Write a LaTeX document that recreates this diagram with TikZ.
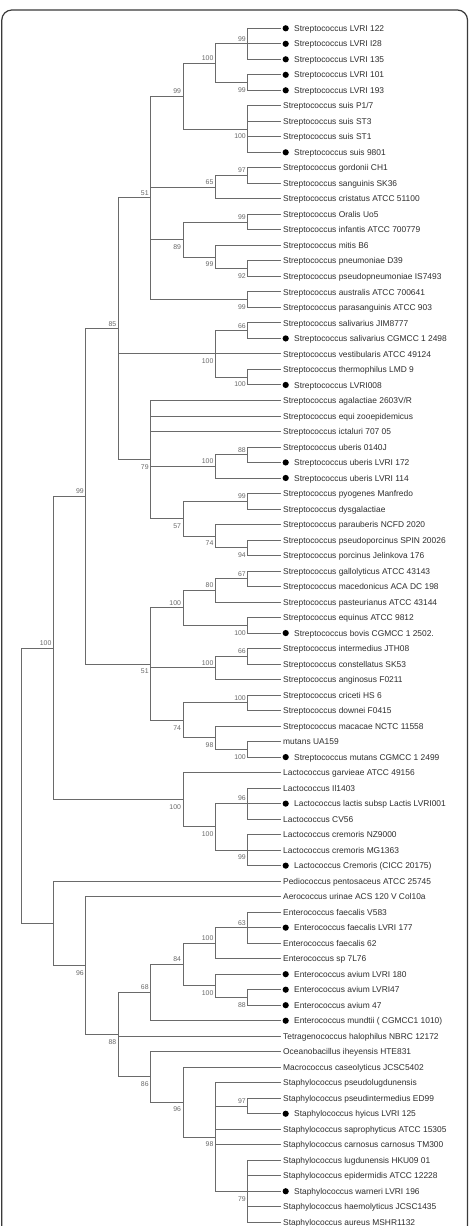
\documentclass[tikz,border=0pt]{standalone}
\usepackage{fontspec}
\setmainfont{Liberation Sans}
\usetikzlibrary{calc}
\definecolor{treeline}{HTML}{6A6A6A}
\definecolor{boottext}{HTML}{6A6A6A}
\definecolor{leafink}{HTML}{2E2E2E}
\definecolor{frameink}{HTML}{3A3A3A}

% column positions of the internal nodes
\newcommand\colx[1]{\coordinate (c#1) at ({21+32.4*#1},0);}
% a leaf: tip coordinate, optional dot, label
\newcommand\leaf[3]{%
  \coordinate (t#1) at (280.2,{28.3+(#1-1)*15.506});
  \ifnum#2=1
    \node[dotmark] (d#1) at ([xshift=5.5pt]t#1) {};
    \node[leaftext] (L#1) at ([xshift=13.8pt,yshift=-3.1pt]t#1) {#3};
  \else
    \node[leaftext] (L#1) at ([xshift=2.8pt,yshift=-3.1pt]t#1) {#3};
  \fi}
% an internal node placed in a column, halfway between its outer children
\newcommand\clade[4]{%
  \path ($(#3)!0.5!(#4)$) coordinate (m#1);
  \coordinate (#1) at (c#2 |- m#1);}
% elbow connectors from a node to each child
\newcommand\kids[2]{\foreach \k in {#2}{\draw[branch] (#1) |- (\k);}}
% bootstrap values above / below the incoming branch
\newcommand\bsup[2]{\node[boot] (b-#1) at ([xshift=-1.8pt,yshift=5pt]#1) {#2};}
\newcommand\bsdn[2]{\node[boot] (b-#1) at ([xshift=-1.8pt,yshift=-7.4pt]#1) {#2};}

\begin{document}
\begin{tikzpicture}[x=1pt,y=-1pt,
  branch/.style={draw=treeline,line width=0.9pt,line cap=rect},
  leaftext/.style={anchor=base west,inner sep=0pt,text=leafink,
    font=\fontsize{8.4}{10}\selectfont},
  dotmark/.style={circle,fill=black,inner sep=0pt,minimum size=6.2pt},
  boot/.style={anchor=east,inner sep=0pt,text=boottext,
    font=\fontsize{6.9}{8}\selectfont},
  frame/.style={draw=frameink,line width=1.2pt,rounded corners=10pt}]
\useasboundingbox (0,0) rectangle (469,1226);
\fill[white] (0,0) rectangle (469,1226);
\clip (0,0) rectangle (469,1226);
\draw[frame] (1.8,1250) -- (1.8,10) -- (467.5,10) -- (467.5,1250);

\foreach \j in {0,...,7}{\colx{\j}}

\leaf{1}{1}{Streptococcus LVRI 122}
\leaf{2}{1}{Streptococcus LVRI I28}
\leaf{3}{1}{Streptococcus LVRI 135}
\leaf{4}{1}{Streptococcus LVRI 101}
\leaf{5}{1}{Streptococcus LVRI 193}
\leaf{6}{0}{Streptococcus suis P1/7}
\leaf{7}{0}{Streptococcus suis ST3}
\leaf{8}{0}{Streptococcus suis ST1}
\leaf{9}{1}{Streptococcus suis 9801}
\leaf{10}{0}{Streptococcus gordonii CH1}
\leaf{11}{0}{Streptococcus sanguinis SK36}
\leaf{12}{0}{Streptococcus cristatus ATCC 51100}
\leaf{13}{0}{Streptococcus Oralis Uo5}
\leaf{14}{0}{Streptococcus infantis ATCC 700779}
\leaf{15}{0}{Streptococcus mitis B6}
\leaf{16}{0}{Streptococcus pneumoniae D39}
\leaf{17}{0}{Streptococcus pseudopneumoniae IS7493}
\leaf{18}{0}{Streptococcus australis ATCC 700641}
\leaf{19}{0}{Streptococcus parasanguinis ATCC 903}
\leaf{20}{0}{Streptococcus salivarius JIM8777}
\leaf{21}{1}{Streptococcus salivarius CGMCC 1 2498}
\leaf{22}{0}{Streptococcus vestibularis ATCC 49124}
\leaf{23}{0}{Streptococcus thermophilus LMD 9}
\leaf{24}{1}{Streptococcus LVRI008}
\leaf{25}{0}{Streptococcus agalactiae 2603V/R}
\leaf{26}{0}{Streptococcus equi zooepidemicus}
\leaf{27}{0}{Streptococcus ictaluri 707 05}
\leaf{28}{0}{Streptococcus uberis 0140J}
\leaf{29}{1}{Streptococcus uberis LVRI 172}
\leaf{30}{1}{Streptococcus uberis LVRI 114}
\leaf{31}{0}{Streptococcus pyogenes Manfredo}
\leaf{32}{0}{Streptococcus dysgalactiae}
\leaf{33}{0}{Streptococcus parauberis NCFD 2020}
\leaf{34}{0}{Streptococcus pseudoporcinus SPIN 20026}
\leaf{35}{0}{Streptococcus porcinus Jelinkova 176}
\leaf{36}{0}{Streptococcus gallolyticus ATCC 43143}
\leaf{37}{0}{Streptococcus macedonicus ACA DC 198}
\leaf{38}{0}{Streptococcus pasteurianus ATCC 43144}
\leaf{39}{0}{Streptococcus equinus ATCC 9812}
\leaf{40}{1}{Streptococcus bovis CGMCC 1 2502.}
\leaf{41}{0}{Streptococcus intermedius JTH08}
\leaf{42}{0}{Streptococcus constellatus SK53}
\leaf{43}{0}{Streptococcus anginosus F0211}
\leaf{44}{0}{Streptococcus criceti HS 6}
\leaf{45}{0}{Streptococcus downei F0415}
\leaf{46}{0}{Streptococcus macacae NCTC 11558}
\leaf{47}{0}{mutans UA159}
\leaf{48}{1}{Streptococcus mutans CGMCC 1 2499}
\leaf{49}{0}{Lactococcus garvieae ATCC 49156}
\leaf{50}{0}{Lactococcus Il1403}
\leaf{51}{1}{Lactococcus lactis subsp Lactis LVRI001}
\leaf{52}{0}{Lactococcus CV56}
\leaf{53}{0}{Lactococcus cremoris NZ9000}
\leaf{54}{0}{Lactococcus cremoris MG1363}
\leaf{55}{1}{Lactococcus Cremoris (CICC 20175)}
\leaf{56}{0}{Pediococcus pentosaceus ATCC 25745}
\leaf{57}{0}{Aerococcus urinae ACS 120 V Col10a}
\leaf{58}{0}{Enterococcus faecalis V583}
\leaf{59}{1}{Enterococcus faecalis LVRI 177}
\leaf{60}{0}{Enterococcus faecalis 62}
\leaf{61}{0}{Enterococcus sp 7L76}
\leaf{62}{1}{Enterococcus avium LVRI 180}
\leaf{63}{1}{Enterococcus avium LVRI47}
\leaf{64}{1}{Enterococcus avium 47}
\leaf{65}{1}{Enterococcus mundtii ( CGMCC1 1010)}
\leaf{66}{0}{Tetragenococcus halophilus NBRC 12172}
\leaf{67}{0}{Oceanobacillus iheyensis HTE831}
\leaf{68}{0}{Macrococcus caseolyticus JCSC5402}
\leaf{69}{0}{Staphylococcus pseudolugdunensis}
\leaf{70}{0}{Staphylococcus pseudintermedius ED99}
\leaf{71}{1}{Staphylococcus hyicus LVRI 125}
\leaf{72}{0}{Staphylococcus saprophyticus ATCC 15305}
\leaf{73}{0}{Staphylococcus carnosus carnosus TM300}
\leaf{74}{0}{Staphylococcus lugdunensis HKU09 01}
\leaf{75}{0}{Staphylococcus epidermidis ATCC 12228}
\leaf{76}{1}{Staphylococcus warneri LVRI 196}
\leaf{77}{0}{Staphylococcus haemolyticus JCSC1435}
\leaf{78}{0}{Staphylococcus aureus MSHR1132}

% --- Streptococcus: LVRI isolates, suis, mitis group
\clade{a1}{7}{t1}{t3}     \kids{a1}{t1,t2,t3}
\clade{a2}{7}{t4}{t5}     \kids{a2}{t4,t5}
\clade{a3}{6}{a1}{a2}     \kids{a3}{a1,a2}
\clade{a4}{7}{t6}{t9}     \kids{a4}{t6,t7,t8,t9}
\clade{a5}{5}{a3}{a4}     \kids{a5}{a3,a4}
\clade{a6}{7}{t10}{t11}   \kids{a6}{t10,t11}
\clade{a7}{6}{a6}{t12}    \kids{a7}{a6,t12}
\clade{a8}{7}{t13}{t14}   \kids{a8}{t13,t14}
\clade{a9}{7}{t16}{t17}   \kids{a9}{t16,t17}
\clade{a10}{6}{t15}{a9}   \kids{a10}{t15,a9}
\clade{a11}{5}{a8}{a10}   \kids{a11}{a8,a10}
\clade{a12}{7}{t18}{t19}  \kids{a12}{t18,t19}
\clade{a13}{4}{a5}{a12}   \kids{a13}{a5,a7,a11,a12}
% --- salivarius and pyogenic groups
\clade{b1}{7}{t20}{t21}   \kids{b1}{t20,t21}
\clade{b2}{7}{t23}{t24}   \kids{b2}{t23,t24}
\clade{b3}{6}{b1}{b2}     \kids{b3}{b1,t22,b2}
\clade{b4}{7}{t28}{t29}   \kids{b4}{t28,t29}
\clade{b5}{6}{b4}{t30}    \kids{b5}{b4,t30}
\clade{b6}{7}{t31}{t32}   \kids{b6}{t31,t32}
\clade{b7}{7}{t34}{t35}   \kids{b7}{t34,t35}
\clade{b8}{6}{t33}{b7}    \kids{b8}{t33,b7}
\clade{b9}{5}{b6}{b8}     \kids{b9}{b6,b8}
\clade{b10}{4}{t25}{b9}   \kids{b10}{t25,t26,t27,b5,b9}
\clade{b11}{3}{a13}{b10}  \kids{b11}{a13,b3,b10}
% --- bovis, anginosus and mutans groups
\clade{e1}{7}{t36}{t37}   \kids{e1}{t36,t37}
\clade{e2}{6}{e1}{t38}    \kids{e2}{e1,t38}
\clade{e3}{7}{t39}{t40}   \kids{e3}{t39,t40}
\clade{e4}{5}{e2}{e3}     \kids{e4}{e2,e3}
\clade{e5}{7}{t41}{t42}   \kids{e5}{t41,t42}
\clade{e6}{6}{e5}{t43}    \kids{e6}{e5,t43}
\clade{e7}{7}{t44}{t45}   \kids{e7}{t44,t45}
\clade{e8}{7}{t47}{t48}   \kids{e8}{t47,t48}
\clade{e9}{6}{t46}{e8}    \kids{e9}{t46,e8}
\clade{e10}{5}{e7}{e9}    \kids{e10}{e7,e9}
\clade{e11}{4}{e4}{e10}   \kids{e11}{e4,e6,e10}
\clade{e12}{2}{b11}{e11}  \kids{e12}{b11,e11}
% --- Lactococcus
\clade{f1}{7}{t50}{t52}   \kids{f1}{t50,t51,t52}
\clade{f2}{7}{t53}{t55}   \kids{f2}{t53,t54,t55}
\clade{f3}{6}{f1}{f2}     \kids{f3}{f1,f2}
\clade{f4}{5}{t49}{f3}    \kids{f4}{t49,f3}
\clade{f5}{1}{e12}{f4}    \kids{f5}{e12,f4}
% --- Enterococcus
\clade{g1}{7}{t58}{t60}   \kids{g1}{t58,t59,t60}
\clade{g2}{6}{g1}{t61}    \kids{g2}{g1,t61}
\clade{g3}{7}{t63}{t64}   \kids{g3}{t63,t64}
\clade{g4}{6}{t62}{g3}    \kids{g4}{t62,g3}
\clade{g5}{5}{g2}{g4}     \kids{g5}{g2,g4}
\clade{g6}{4}{g5}{t65}    \kids{g6}{g5,t65}
% --- Staphylococcus and relatives
\clade{h1}{7}{t70}{t71}   \kids{h1}{t70,t71}
\clade{h2}{7}{t74}{t78}   \kids{h2}{t74,t75,t76,t77,t78}
\clade{h3}{6}{t69}{h2}    \kids{h3}{t69,h1,t72,t73,h2}
\clade{h4}{5}{t68}{h3}    \kids{h4}{t68,h3}
\clade{h5}{4}{t67}{h4}    \kids{h5}{t67,h4}
\clade{h6}{3}{g6}{h5}     \kids{h6}{g6,t66,h5}
\clade{h7}{2}{t57}{h6}    \kids{h7}{t57,h6}
\clade{h8}{1}{t56}{h7}    \kids{h8}{t56,h7}
\clade{root}{0}{f5}{h8}   \kids{root}{f5,h8}

% bootstrap support values
\bsup{a1}{99}  \bsdn{a2}{99}  \bsup{a3}{100} \bsdn{a4}{100}
\bsup{a5}{99}  \bsup{a6}{97}  \bsup{a7}{65}  \bsup{a8}{99}
\bsdn{a9}{92}  \bsdn{a10}{99} \bsdn{a11}{89} \bsdn{a12}{99}
\bsup{a13}{51}
\bsup{b1}{66}  \bsdn{b2}{100} \bsdn{b3}{100} \bsup{b4}{88}
\bsup{b5}{100} \bsup{b6}{99}  \bsdn{b7}{94}  \bsdn{b8}{74}
\bsdn{b9}{57}  \bsdn{b10}{79} \bsup{b11}{85}
\bsup{e1}{67}  \bsup{e2}{80}  \bsdn{e3}{100} \bsup{e4}{100}
\bsup{e5}{66}  \bsup{e6}{100} \bsup{e7}{100} \bsdn{e8}{100}
\bsdn{e9}{98}  \bsdn{e10}{74} \bsdn{e11}{51} \bsup{e12}{99}
\bsup{f1}{96}  \bsdn{f2}{99}  \bsdn{f3}{100} \bsdn{f4}{100}
\bsup{f5}{100}
\bsup{g1}{63}  \bsup{g2}{100} \bsdn{g3}{88}  \bsdn{g4}{100}
\bsup{g5}{84}  \bsup{g6}{68}
\bsup{h1}{97}  \bsdn{h2}{79}  \bsdn{h3}{98}  \bsdn{h4}{96}
\bsdn{h5}{86}  \bsdn{h6}{88}  \bsdn{h7}{96}
\end{tikzpicture}
\end{document}
